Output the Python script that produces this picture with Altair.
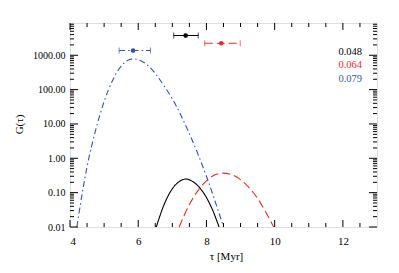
import altair as alt
import pandas as pd

# ---- data ----
black_x = [6.53, 6.75, 7.0, 7.2, 7.39, 7.6, 7.8, 8.0, 8.2, 8.37]
black_y = [0.01, 0.043, 0.13, 0.21, 0.25, 0.21, 0.14, 0.072, 0.028, 0.01]

red_x = [7.2, 7.5, 7.75, 8.0, 8.25, 8.48, 8.75, 9.0, 9.25, 9.5, 9.75, 9.97]
red_y = [0.01, 0.045, 0.115, 0.22, 0.33, 0.37, 0.33, 0.24, 0.14, 0.068, 0.026, 0.01]

blue_x = [4.2, 4.5, 4.75, 5.0, 5.25, 5.5, 5.85, 6.0, 6.25, 6.5, 6.75, 7.0, 7.5, 8.0, 8.5]
blue_y = [0.01, 0.57, 6.5, 45, 186, 480, 785, 740, 540, 295, 132, 54, 5.2, 0.3, 0.01]

pt_x = [7.39, 8.435, 5.85]
pt_lo = [7.04, 7.95, 5.44]
pt_hi = [7.76, 8.99, 6.36]
pt_y = [3750, 2240, 1370]
labels = ["0.048", "0.064", "0.079"]
colors = ["#000000", "#ee2b2b", "#3552b0"]
dashes = [[1, 0], [8, 4], [6, 3, 1.5, 3]]

x_major = [4, 6, 8, 10, 12]
x_minor = [4.5, 5, 5.5, 6.5, 7, 7.5, 8.5, 9, 9.5, 10.5, 11, 11.5, 12.5]
y_major = [0.01, 0.1, 1, 10, 100, 1000]
y_minor = [m * d for d in [0.01, 0.1, 1, 10, 100, 1000] for m in range(2, 10) if m * d < 8700]

W, H = 307, 204
xs = alt.Scale(domain=[4, 13], nice=False, zero=False)
ys = alt.Scale(type="log", domain=[0.01, 8700], nice=False)
FONT = "Liberation Serif"

layers = []
curves = [(black_x, black_y), (red_x, red_y), (blue_x, blue_y)]
for i, (cx, cy) in enumerate(curves):
    df = pd.DataFrame({"x": cx, "y": cy})
    layers.append(
        alt.Chart(df).mark_line(color=colors[i], strokeDash=dashes[i], strokeWidth=1.1,
                                interpolate="monotone", clip=True).encode(
            x=alt.X("x:Q", scale=xs, axis=alt.Axis(values=x_major, tickSize=0, domain=False, grid=False,
                                                   labelFont=FONT, labelFontSize=11, labelPadding=8,
                                                   labelColor="black",
                                                   title="τ [Myr]", titleFont=FONT, titleFontSize=11,
                                                   titleFontWeight="normal", titlePadding=4,
                                                   titleColor="black", titleX=156)),
            y=alt.Y("y:Q", scale=ys, axis=alt.Axis(values=y_major, format=".2f", tickSize=0,
                                                   domain=False, grid=False, labelFont=FONT,
                                                   labelFontSize=10, labelPadding=5, labelColor="black",
                                                   title="G(τ)", titleFont=FONT, titleFontSize=11,
                                                   titleFontWeight="normal", titleColor="black",
                                                   titleX=-51, titleY=101, titleAngle=-90,
                                                   titleBaseline="middle")),
        )
    )

for i in range(3):
    df = pd.DataFrame({"x": [pt_x[i]], "lo": [pt_lo[i]], "hi": [pt_hi[i]], "y": [pt_y[i]]})
    base = alt.Chart(df)
    layers.append(base.mark_rule(color=colors[i], strokeDash=dashes[i], strokeWidth=1.1).encode(
        x=alt.X("lo:Q", scale=xs), x2="hi:Q", y=alt.Y("y:Q", scale=ys)))
    caps = pd.DataFrame({"x": [pt_lo[i], pt_hi[i]], "y": [pt_y[i]] * 2})
    layers.append(alt.Chart(caps).mark_tick(color=colors[i], orient="vertical", size=6, thickness=1).encode(
        x=alt.X("x:Q", scale=xs), y=alt.Y("y:Q", scale=ys)))
    layers.append(base.mark_point(color=colors[i], filled=True, opacity=1, size=22, shape="circle").encode(
        x=alt.X("x:Q", scale=xs), y=alt.Y("y:Q", scale=ys)))

# legend-like labels
for i in range(3):
    layers.append(alt.Chart(pd.DataFrame({"t": [labels[i]]})).mark_text(
        align="right", baseline="middle", font=FONT, fontSize=10.5, color=colors[i]).encode(
        text="t:N", x=alt.value(292), y=alt.value(29 + 13.3 * i)))

# inward ticks
def xticks(vals, L):
    df = pd.DataFrame({"x": vals})
    b = alt.Chart(df).mark_rule(color="black", strokeWidth=1)
    return [b.encode(x=alt.X("x:Q", scale=xs), y=alt.value(H), y2=alt.value(H - L)),
            b.encode(x=alt.X("x:Q", scale=xs), y=alt.value(0), y2=alt.value(L))]

def yticks(vals, L):
    df = pd.DataFrame({"y": vals})
    b = alt.Chart(df).mark_rule(color="black", strokeWidth=1)
    return [b.encode(y=alt.Y("y:Q", scale=ys), x=alt.value(0), x2=alt.value(L)),
            b.encode(y=alt.Y("y:Q", scale=ys), x=alt.value(W), x2=alt.value(W - L))]

layers += xticks(x_major, 7) + xticks(x_minor, 4) + yticks(y_major, 8) + yticks(y_minor, 4)

chart = alt.layer(*layers).properties(
    width=W, height=H,
    autosize=alt.AutoSizeParams(type="none"),
    padding={"left": 62, "top": 15, "right": 14, "bottom": 40},
).configure_view(stroke="black", strokeWidth=1.3).configure(background="white")

chart.save("out.html", embed_options={"renderer": "svg", "actions": False})
